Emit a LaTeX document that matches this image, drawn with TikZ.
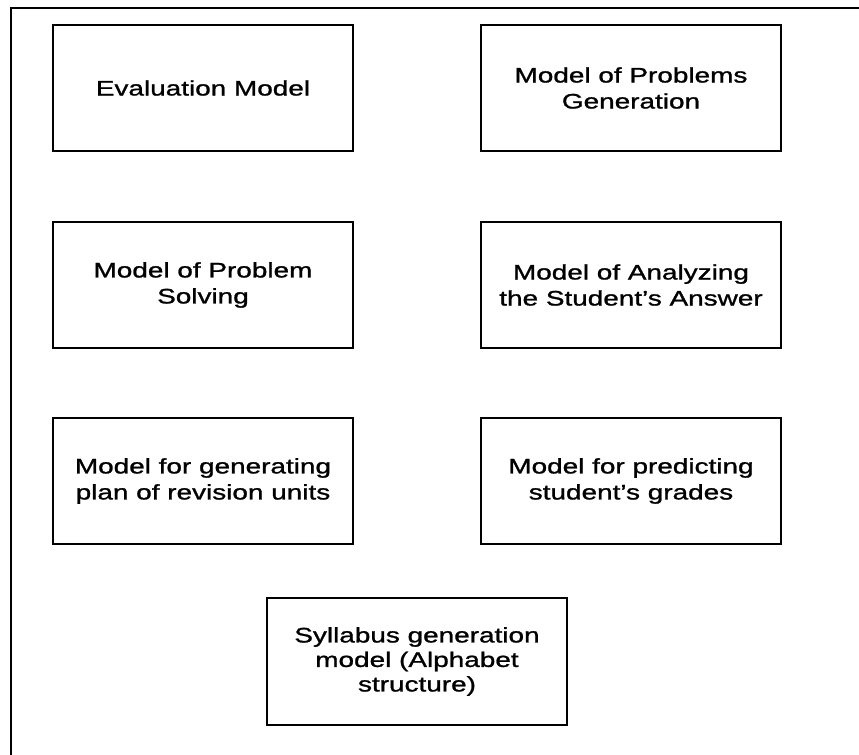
\documentclass[tikz,border=0pt]{standalone}
\usepackage{fontspec}
\setmainfont{Liberation Sans}[FakeStretch=1.33,FakeBold=1.2]
\begin{document}
\begin{tikzpicture}[x=1bp,y=-1bp,
  modbox/.style={draw=black,line width=1.8bp,rectangle,minimum width=300bp,minimum height=126bp,inner sep=0pt,align=center,
    font=\fontsize{21bp}{26bp}\selectfont}]
\useasboundingbox (0,0) rectangle (859,755);
\coordinate (ftl) at (11,8);
\coordinate (fbl) at (11,755);
\coordinate (ftr) at (859,8);
\draw[line width=2.6bp] (fbl) -- (ftl) -- (ftr);
\node[modbox] (eval) at (203,88) {Evaluation Model};
\node[modbox] (gen) at (631,88) {Model of Problems\\Generation};
\node[modbox] (solve) at (203,285) {Model of Problem\\Solving};
\node[modbox] (anal) at (631,285) {Model of Analyzing\\the Student’s Answer};
\node[modbox] (plan) at (203,481) {Model for generating\\plan of revision units};
\node[modbox] (pred) at (631,481) {Model for predicting\\student’s grades};
\node[modbox,minimum height=127bp,font=\fontsize{21bp}{24.5bp}\selectfont] (syl) at (417,661.5) {Syllabus generation\\model (Alphabet\\structure)};
\end{tikzpicture}
\end{document}
